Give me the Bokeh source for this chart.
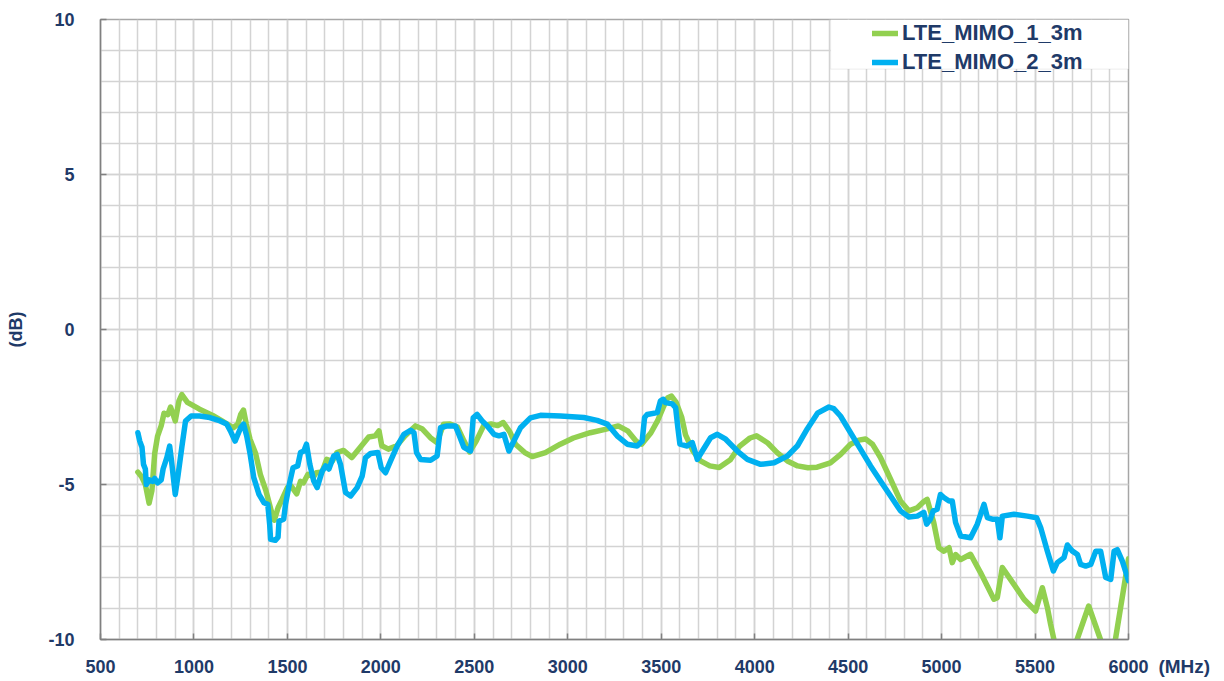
from bokeh.plotting import figure
from bokeh.models import (Range1d, SingleIntervalTicker, Legend, LegendItem, Label,
                          BoxAnnotation, ColumnDataSource)
from bokeh.embed import file_html
from bokeh.resources import INLINE

# ---------------- data ----------------
series_names = ["LTE_MIMO_1_3m", "LTE_MIMO_2_3m"]
series_colors = ["#92d050", "#00b0f0"]

mimo1_freq = [700, 720, 740, 760, 775, 790, 805, 825, 840, 860, 875, 900, 920, 935, 965,
              1030, 1100, 1150, 1210, 1235, 1250, 1265, 1280, 1300, 1330, 1355, 1385, 1420,
              1430, 1450, 1470, 1500, 1520, 1550, 1570, 1585, 1610, 1640, 1655, 1685, 1710,
              1740, 1765, 1800, 1845, 1890, 1935, 1970, 1990, 2005, 2040, 2085, 2130, 2185,
              2220, 2265, 2300, 2335, 2370, 2410, 2445, 2475, 2510, 2550, 2590, 2625, 2655,
              2690, 2720, 2770, 2810, 2880, 2960, 3030, 3120, 3200, 3270, 3320, 3365, 3395,
              3445, 3480, 3510, 3535, 3555, 3580, 3610, 3630, 3670, 3710, 3760, 3810, 3870,
              3920, 3975, 4010, 4070, 4120, 4175, 4230, 4285, 4334, 4405, 4460, 4513, 4557,
              4593, 4630, 4673, 4727, 4780, 4825, 4870, 4905, 4923, 4940, 4958, 4985, 5012,
              5040, 5057, 5075, 5102, 5155, 5209, 5280, 5298, 5325, 5387, 5441, 5503, 5539,
              5566, 5583, 5601, 5640, 5690, 5725, 5787, 5850, 5890, 5930, 6000]
mimo1_db = [-4.6, -4.75, -5.0, -5.6, -5.2, -4.0, -3.45, -3.1, -2.7, -2.75, -2.5, -2.95, -2.3,
            -2.1, -2.35, -2.57, -2.77, -2.95, -3.17, -3.05, -2.74, -2.6, -3.05, -3.54, -4.0,
            -4.67, -5.2, -6.0, -6.15, -5.75, -5.5, -5.1, -5.05, -5.3, -4.9, -4.95, -4.67,
            -4.75, -4.62, -4.6, -4.19, -4.25, -3.97, -3.9, -4.13, -3.8, -3.47, -3.43, -3.27,
            -3.75, -3.86, -3.75, -3.43, -3.11, -3.2, -3.49, -3.65, -3.06, -3.05, -3.15, -3.6,
            -3.95, -3.6, -3.1, -3.05, -3.1, -3.0, -3.3, -3.7, -3.97, -4.1, -3.97, -3.7, -3.5,
            -3.33, -3.22, -3.11, -3.27, -3.6, -3.7, -3.33, -2.95, -2.52, -2.2, -2.15, -2.35,
            -2.84, -3.4, -3.92, -4.24, -4.4, -4.45, -4.2, -3.76, -3.5, -3.43, -3.66, -3.97,
            -4.24, -4.4, -4.46, -4.44, -4.3, -4.03, -3.7, -3.57, -3.53, -3.7, -4.13, -4.83,
            -5.53, -5.85, -5.75, -5.55, -5.48, -5.85, -6.23, -7.04, -7.15, -7.04, -7.52,
            -7.26, -7.42, -7.25, -7.85, -8.7, -8.65, -7.68, -8.22, -8.7, -9.08, -8.33, -8.97,
            -9.5, -10.0, -11.0, -11.2, -10.0, -8.92, -10.0, -10.8, -10.0, -7.4]

mimo2_freq = [700, 710, 722, 730, 740, 745, 760, 780, 790, 805, 825, 835, 855, 870, 880, 900,
              915, 935, 955, 985, 1030, 1085, 1140, 1175, 1195, 1220, 1250, 1265, 1282, 1300,
              1320, 1348, 1375, 1395, 1405, 1410, 1435, 1450, 1455, 1480, 1490, 1510, 1530,
              1555, 1570, 1588, 1602, 1620, 1641, 1659, 1686, 1704, 1722, 1748, 1766, 1784,
              1811, 1838, 1873, 1900, 1918, 1945, 1984, 2002, 2025, 2052, 2087, 2123, 2159,
              2177, 2191, 2212, 2266, 2301, 2319, 2355, 2399, 2417, 2444, 2480, 2494, 2515,
              2542, 2569, 2605, 2632, 2658, 2685, 2703, 2747, 2800, 2854, 2961, 3086, 3157,
              3211, 3264, 3318, 3371, 3398, 3411, 3425, 3479, 3496, 3511, 3523, 3559, 3577,
              3589, 3600, 3639, 3666, 3680, 3693, 3720, 3764, 3800, 3845, 3907, 3961, 4032,
              4104, 4175, 4229, 4282, 4336, 4397, 4423, 4459, 4513, 4566, 4620, 4673, 4727,
              4780, 4825, 4870, 4905, 4920, 4940, 4955, 4976, 4994, 5012, 5040, 5057, 5075,
              5102, 5155, 5191, 5227, 5245, 5271, 5298, 5312, 5325, 5387, 5459, 5508, 5530,
              5566, 5598, 5619, 5655, 5673, 5700, 5727, 5744, 5771, 5798, 5825, 5851, 5878,
              5905, 5923, 5940, 5967, 6000]
mimo2_db = [-3.33, -3.6, -3.8, -4.35, -4.5, -5.0, -4.85, -4.9, -4.8, -4.95, -4.85, -4.5, -4.13,
            -3.76, -4.24, -5.32, -4.7, -3.8, -2.95, -2.79, -2.79, -2.84, -2.95, -3.05, -3.27,
            -3.6, -3.17, -3.05, -3.43, -4.0, -4.78, -5.32, -5.59, -5.64, -6.28, -6.77, -6.8,
            -6.7, -6.18, -6.12, -5.64, -5.0, -4.46, -4.4, -3.97, -3.92, -3.7, -4.35, -4.89,
            -5.1, -4.57, -4.4, -4.5, -4.08, -4.03, -4.35, -5.26, -5.37, -5.1, -4.73, -4.13,
            -4.0, -3.97, -4.46, -4.62, -4.24, -3.76, -3.38, -3.25, -3.33, -3.97, -4.19, -4.22,
            -4.08, -3.17, -3.11, -3.11, -3.38, -3.8, -3.92, -2.85, -2.74, -2.95, -3.11, -3.38,
            -3.43, -3.38, -3.92, -3.7, -3.17, -2.85, -2.77, -2.79, -2.84, -2.93, -3.05, -3.43,
            -3.7, -3.76, -3.6, -2.84, -2.74, -2.68, -2.3, -2.25, -2.36, -2.4, -2.52, -3.17,
            -3.7, -3.76, -3.65, -3.92, -4.19, -3.92, -3.49, -3.38, -3.54, -3.92, -4.19, -4.35,
            -4.3, -4.08, -3.75, -3.2, -2.7, -2.5, -2.55, -2.79, -3.33, -3.86, -4.4, -4.89,
            -5.37, -5.85, -6.05, -6.02, -5.9, -6.28, -6.12, -5.85, -5.8, -5.32, -5.42, -5.53,
            -5.53, -6.23, -6.66, -6.72, -6.28, -5.64, -6.07, -6.12, -6.12, -6.72, -6.02, -5.96,
            -6.02, -6.07, -6.39, -7.15, -7.79, -7.52, -7.36, -6.95, -7.15, -7.26, -7.58, -7.63,
            -7.58, -7.15, -7.15, -8.0, -8.06, -7.15, -7.1, -7.47, -8.1]

x_tick_step = 500
y_tick_step = 5
y_tick_labels = {10: "10", 5: "5", 0: "0", -5: "-5", -10: "-10"}
x_unit = "(MHz)"
y_unit = "(dB)"

# ---------------- styling ----------------
FONT = "Liberation Sans"
NAVY = "#1f3a68"
GRID = "#d3d3d3"

p = figure(width=1224, height=681, output_backend="svg", toolbar_location=None,
           x_range=Range1d(500, 6000), y_range=Range1d(-10, 10),
           min_border_left=100, min_border_right=96, min_border_top=19,
           min_border_bottom=42)
p.outline_line_color = "#a6a6a6"
p.outline_line_width = 1.5
p.background_fill_color = "white"
p.border_fill_color = "white"

p.xaxis.ticker = SingleIntervalTicker(interval=x_tick_step, num_minor_ticks=5)
p.yaxis.ticker = SingleIntervalTicker(interval=y_tick_step, num_minor_ticks=5)
p.yaxis.major_label_overrides = y_tick_labels

for ax in (p.xaxis, p.yaxis):
    ax.axis_line_color = "#808080"
    ax.axis_line_width = 1.5
    ax.major_tick_in = 6
    ax.major_tick_out = 0
    ax.major_tick_line_color = "#808080"
    ax.major_tick_line_width = 1.5
    ax.minor_tick_line_color = None
    ax.major_label_text_font = FONT
    ax.major_label_text_font_style = "bold"
    ax.major_label_text_font_size = "18px"
    ax.major_label_text_color = NAVY
p.xaxis.major_label_standoff = 16
p.yaxis.major_label_standoff = 22

p.yaxis.axis_label = y_unit
p.yaxis.axis_label_standoff = 19
p.yaxis.axis_label_text_font = FONT
p.yaxis.axis_label_text_font_style = "bold"
p.yaxis.axis_label_text_font_size = "18px"
p.yaxis.axis_label_text_color = NAVY

for g in (p.xgrid, p.ygrid):
    g.grid_line_color = GRID
    g.grid_line_width = 1.5
    g.minor_grid_line_color = GRID
    g.minor_grid_line_width = 1.5

renderers = []
for fx, fy, col in ((mimo1_freq, mimo1_db, series_colors[0]),
                    (mimo2_freq, mimo2_db, series_colors[1])):
    src = ColumnDataSource(dict(x=fx, y=fy))
    r = p.line("x", "y", source=src, line_color=col, line_width=5.5,
               line_join="round", line_cap="round")
    renderers.append(r)

# legend background box
p.add_layout(BoxAnnotation(left=4406, right=6000, bottom=8.4, top=10,
                           fill_color="white", fill_alpha=1.0,
                           line_color="#c8c8c8", line_width=1))

legend = Legend(items=[LegendItem(label=n, renderers=[r]) for n, r in zip(series_names, renderers)],
                location=(772, 564), margin=0, padding=4, spacing=3,
                glyph_width=26, glyph_height=24, label_height=24, label_standoff=4,
                label_text_font=FONT, label_text_font_style="bold",
                label_text_font_size="22px", label_text_color=NAVY,
                background_fill_alpha=0, border_line_color=None)
p.add_layout(legend, "center")

p.add_layout(Label(x=6160, y=-10.87, text=x_unit, text_font=FONT, text_font_style="bold",
                   text_font_size="19px", text_color=NAVY, text_baseline="middle",
                   text_align="left"), "right")

open("out.html", "w").write(file_html(p, INLINE))
